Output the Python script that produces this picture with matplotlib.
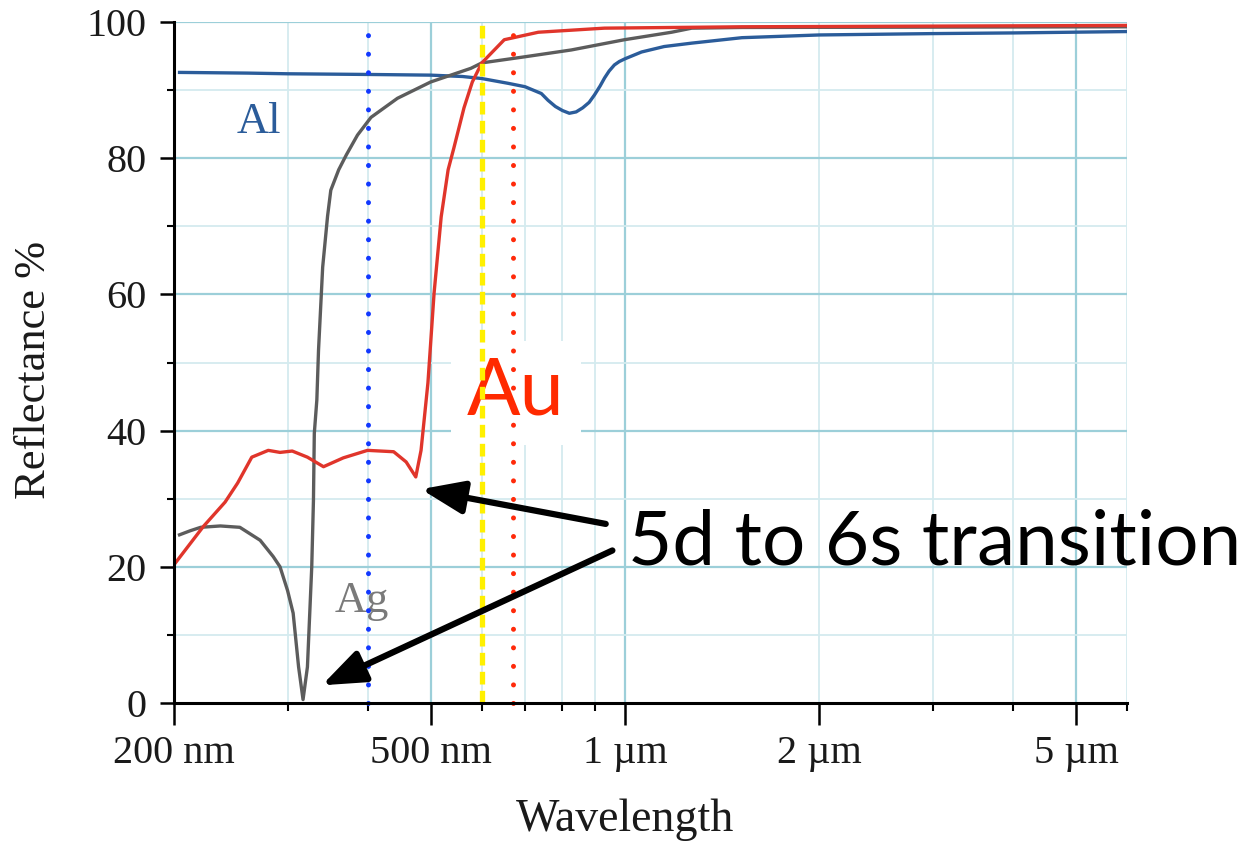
import matplotlib
matplotlib.use('Agg')
import matplotlib.pyplot as plt
from matplotlib.ticker import FixedLocator, FixedFormatter, NullFormatter

# Reflectance curves (wavelength in nm, reflectance in %)
al_wl = [204, 260, 300, 400, 500, 560, 600, 659, 700, 742, 760, 780, 800, 820,
         840, 860, 880, 897, 915, 930, 945, 963, 980, 1000, 1061, 1150, 1269,
         1518, 2000, 3000, 4000, 6000]
al_r = [92.6, 92.5, 92.4, 92.3, 92.2, 92.0, 91.7, 91.0, 90.5, 89.5, 88.5, 87.6,
        87.0, 86.6, 86.8, 87.4, 88.2, 89.3, 90.6, 91.8, 92.8, 93.7, 94.2, 94.6,
        95.6, 96.4, 96.9, 97.7, 98.1, 98.3, 98.4, 98.6]

ag_wl = [204, 212, 220, 236, 253, 272, 285, 292, 300, 306, 312, 317, 322, 327,
         329, 330, 333, 335, 340, 346, 350, 360, 370, 385, 404, 444, 500, 577,
         600, 700, 826, 998, 1181, 1269, 1518, 6000]
ag_r = [24.7, 25.3, 25.8, 26.0, 25.8, 23.9, 21.5, 20.0, 16.5, 13.2, 5.3, 0.5,
        5.3, 20.0, 29.8, 39.6, 44.5, 51.8, 64.0, 71.5, 75.3, 78.3, 80.5, 83.4,
        86.0, 88.8, 91.2, 93.2, 94.0, 94.9, 95.9, 97.4, 98.5, 99.1, 99.2, 99.3]

au_wl = [200, 222, 240, 251, 264, 280, 292, 305, 322, 341, 366, 399, 438, 458,
         474, 483, 495, 506, 519, 532, 543, 563, 580, 600, 650, 734, 929, 1518, 6000]
au_r = [20.3, 25.9, 29.5, 32.3, 36.1, 37.1, 36.8, 37.0, 36.1, 34.7, 36.0, 37.1,
        36.9, 35.4, 33.2, 37.1, 47.0, 60.2, 71.4, 78.3, 81.5, 87.4, 91.2, 94.0,
        97.4, 98.5, 99.1, 99.3, 99.5]

# marked wavelengths (blue, yellow, red)
marker_wl = [400, 600, 670]

# where the "5d to 6s" arrows point
au_dip = (483, 31.4)
ag_dip = (339, 2.6)

x_major = [200, 500, 1000, 2000, 5000]
x_labels = ['200 nm', '500 nm', '1 µm', '2 µm', '5 µm']
x_minor = [300, 400, 600, 700, 800, 900, 3000, 4000, 6000]
y_major = [0, 20, 40, 60, 80, 100]
y_minor = [10, 30, 50, 70, 90]

serif = 'Liberation Serif'
grid_dark = '#9ccfd9'
grid_light = '#d4ebef'

fig = plt.figure(figsize=(12.58, 8.47), dpi=100)
ax = fig.add_axes([0.1383, 0.170, 0.7576, 0.804])

ax.set_xscale('log')
ax.set_xlim(200, 6000)
ax.set_ylim(0, 100)

# grid, darker on some lines like the original
for x in x_minor + [2000]:
    ax.axvline(x, color=grid_light, lw=1.3, zorder=0)
for x in [500, 1000, 5000]:
    ax.axvline(x, color=grid_dark, lw=1.6, zorder=0)
for y in y_minor:
    ax.axhline(y, color=grid_light, lw=1.3, zorder=0)
for y in y_major[1:]:
    ax.axhline(y, color=grid_dark, lw=1.6, zorder=0)

ax.plot(al_wl, al_r, color='#2b5c9a', lw=2.4, zorder=3)
ax.plot(ag_wl, ag_r, color='#5c5c5c', lw=2.4, zorder=3)
ax.plot(au_wl, au_r, color='#e0352b', lw=2.4, zorder=3.1)

# vertical marker lines
ax.axvline(marker_wl[0], ymax=1.005, color='#1238ff', lw=3.6,
           linestyle=(0, (0.01, 3.7)), dash_capstyle='round', clip_on=False, zorder=4)
ax.axvline(marker_wl[1], ymax=1.0, color='#fff000', lw=3.8,
           linestyle=(0, (2.4, 1.2)), zorder=4)
ax.axvline(marker_wl[2], ymax=1.005, color='#ff2a0a', lw=3.6,
           linestyle=(0, (0.01, 3.7)), dash_capstyle='round', clip_on=False, zorder=4)

# curve labels
ax.text(250, 83.7, 'Al', family=serif, fontsize=32, color='#2b5c9a', va='baseline')
ax.text(355, 13.4, 'Ag', family=serif, fontsize=32, color='#7a7a7a', va='baseline')
ax.text(569, 42.3, 'Au', family='Lato', fontsize=57, color='#ff2a00', va='baseline',
        zorder=2.5, bbox=dict(boxstyle='square,pad=0.2', fc='white', ec='none'))

ax.text(0.476, 0.203, '5d to 6s transition', transform=ax.transAxes,
        family='Lato', fontsize=55, color='black', va='baseline', clip_on=False, zorder=6)
arrow = dict(arrowstyle='-|>,head_length=1.3,head_width=0.5', lw=4.5, color='black',
             mutation_scale=20, shrinkA=0, shrinkB=0)
ax.annotate('', xy=au_dip, xytext=(0.453, 0.263), textcoords='axes fraction',
            arrowprops=arrow, zorder=6)
ax.annotate('', xy=ag_dip, xytext=(0.460, 0.224), textcoords='axes fraction',
            arrowprops=arrow, zorder=6)

# axes and ticks
for s in ['top', 'right']:
    ax.spines[s].set_visible(False)
for s in ['left', 'bottom']:
    ax.spines[s].set_linewidth(2.2)
    ax.spines[s].set_zorder(5)

ax.xaxis.set_major_locator(FixedLocator(x_major))
ax.xaxis.set_major_formatter(FixedFormatter(x_labels))
ax.xaxis.set_minor_locator(FixedLocator(x_minor))
ax.xaxis.set_minor_formatter(NullFormatter())
ax.yaxis.set_major_locator(FixedLocator(y_major))
ax.yaxis.set_minor_locator(FixedLocator(y_minor))

ax.tick_params(axis='x', which='major', length=16, width=1.8, pad=7)
ax.tick_params(axis='x', which='minor', length=6, width=1.5)
ax.tick_params(axis='y', which='major', length=10, width=1.8, pad=10)
ax.tick_params(axis='y', which='minor', length=5, width=1.5)
for lab in ax.get_xticklabels() + ax.get_yticklabels():
    lab.set_family(serif)
    lab.set_fontsize(29)
    lab.set_color('#1a1a1a')

ax.set_xlabel('Wavelength', family=serif, fontsize=33, color='#1a1a1a')
ax.set_ylabel('Reflectance %', family=serif, fontsize=32, color='#1a1a1a')
ax.xaxis.set_label_coords(0.473, -0.140)
ax.yaxis.set_label_coords(-0.126, 0.489)

fig.savefig('out.png', dpi=100)
